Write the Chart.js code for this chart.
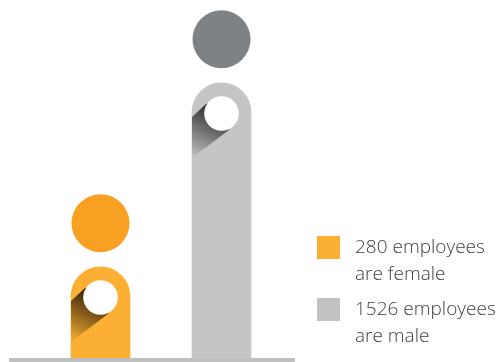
<!DOCTYPE html>
<html>
<head>
<meta charset="utf-8">
<script src="https://cdn.jsdelivr.net/npm/chart.js@4"></script>
<style>
  html, body { margin: 0; padding: 0; background: #fff; }
  #wrap { position: relative; width: 498px; height: 362px; overflow: hidden; }
  canvas { position: absolute; left: 0; top: 0; }
  .key { position: absolute; left: 317px; font: 300 19px/27px "Open Sans", sans-serif; color: #404040; }
  .key i { position: absolute; left: 0; top: 0; width: 23px; height: 23px; }
  .key span { position: absolute; left: 38px; top: -3px; white-space: nowrap; }
</style>
</head>
<body>
<div id="wrap">
  <canvas id="c" width="498" height="362"></canvas>
</div>
<script>
const categories = ['Female', 'Male'];
const employees = [280, 1526];
const barColors = ['#fbb034', '#c6c5c3'];
const headColors = ['#f7a021', '#7e8285'];
const shadowColors = ['rgba(50,32,8,0.95)', 'rgba(45,45,45,0.95)'];
const shadowFades = ['rgba(50,32,8,0)', 'rgba(45,45,45,0)'];
const legendColors = ['#fbb034', '#c2c2c2'];
const legendLines = [['280 employees', 'are female'], ['1526 employees', 'are male']];
const legendTops = [236, 298];

// Turns each bar into a figure: a head above it, a hole near its top and a cast shadow.
const figurePlugin = {
  id: 'figure',
  afterDatasetsDraw(chart) {
    const { ctx } = chart;
    chart.getDatasetMeta(0).data.forEach((bar, i) => {
      const halfWidth = bar.width / 2;
      const holeY = bar.y + 30.5;
      ctx.save();
      ctx.beginPath();
      ctx.rect(bar.x - halfWidth, bar.y, bar.width, bar.base - bar.y);
      ctx.clip();
      const fade = ctx.createLinearGradient(bar.x - 4, holeY, bar.x - 27, holeY + 46);
      fade.addColorStop(0, shadowColors[i]);
      fade.addColorStop(1, shadowFades[i]);
      ctx.fillStyle = fade;
      ctx.beginPath();
      ctx.moveTo(bar.x - 15, holeY - 10);
      ctx.lineTo(bar.x - 30, holeY + 4);
      ctx.lineTo(bar.x - 30, holeY + 45);
      ctx.lineTo(bar.x + 8, holeY + 16);
      ctx.closePath();
      ctx.fill();
      ctx.restore();

      ctx.fillStyle = '#ffffff';
      ctx.beginPath();
      ctx.arc(bar.x, holeY, 17.3, 0, Math.PI * 2);
      ctx.fill();

      ctx.fillStyle = headColors[i];
      ctx.beginPath();
      ctx.arc(bar.x, bar.y - 43.7, 29, 0, Math.PI * 2);
      ctx.fill();
    });
  }
};

// The ground line runs wider than the plot area on both sides.
const groundPlugin = {
  id: 'ground',
  beforeDatasetsDraw(chart) {
    const { ctx, chartArea } = chart;
    ctx.fillStyle = '#c0c0c0';
    ctx.fillRect(chartArea.left - 31, chartArea.bottom, chartArea.width + 44, 4);
  }
};

new Chart(document.getElementById('c'), {
  type: 'bar',
  data: {
    labels: categories,
    datasets: [{
      data: employees,
      backgroundColor: barColors,
      barThickness: 59,
      borderRadius: { topLeft: 30, topRight: 30, bottomLeft: 0, bottomRight: 0 }
    }]
  },
  options: {
    responsive: false,
    animation: false,
    layout: { padding: { left: 40, right: 216, top: 0, bottom: 4 } },
    plugins: { legend: { display: false }, tooltip: { enabled: false } },
    scales: {
      x: { display: false },
      y: { display: false, type: 'logarithmic', min: 121, max: 3277 }
    }
  },
  plugins: [groundPlugin, figurePlugin]
});

// Legend entries are built from the same lists as the chart colours.
const wrap = document.getElementById('wrap');
legendLines.forEach((lines, i) => {
  const key = document.createElement('div');
  key.className = 'key';
  key.style.top = legendTops[i] + 'px';
  const swatch = document.createElement('i');
  swatch.style.background = legendColors[i];
  const text = document.createElement('span');
  text.innerHTML = lines.join('<br>');
  key.append(swatch, text);
  wrap.appendChild(key);
});
</script>
</body>
</html>
